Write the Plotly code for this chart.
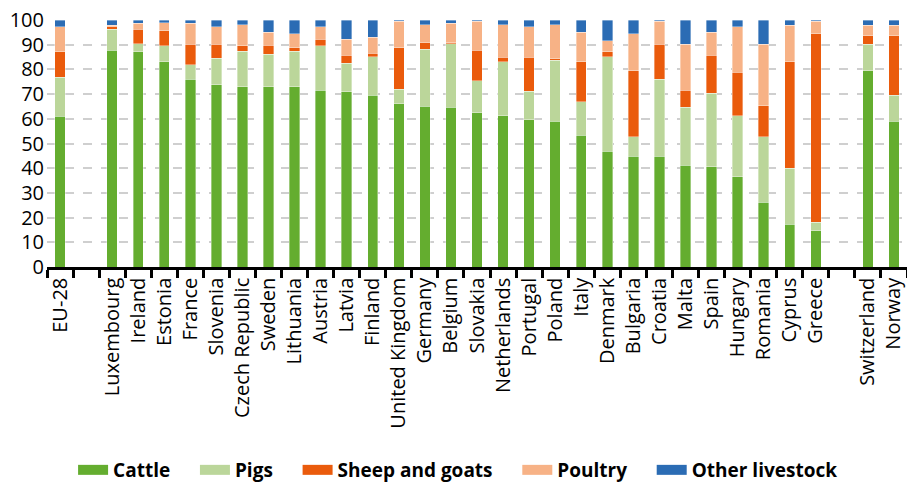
import plotly.graph_objects as go

countries = ["EU-28", " ", "Luxembourg", "Ireland", "Estonia", "France", "Slovenia",
             "Czech Republic", "Sweden", "Lithuania", "Austria", "Latvia", "Finland",
             "United Kingdom", "Germany", "Belgium", "Slovakia", "Netherlands", "Portugal",
             "Poland", "Italy", "Denmark", "Bulgaria", "Croatia", "Malta", "Spain",
             "Hungary", "Romania", "Cyprus", "Greece", "  ", "Switzerland", "Norway"]

# shares in % (None = spacer column)
cattle = [61.1, None, 87.8, 87.2, 83.0, 76.0, 73.7, 73.0, 73.0, 73.0, 71.6, 70.9, 69.6,
          66.0, 65.1, 64.6, 62.4, 61.2, 59.7, 59.1, 53.4, 46.9, 44.9, 44.9, 41.2, 40.5,
          36.5, 26.3, 17.3, 14.6, None, 79.4, 59.1]
pigs = [15.7, None, 8.5, 3.1, 6.5, 5.8, 10.8, 14.4, 13.1, 14.4, 17.9, 11.5, 15.5,
        5.9, 23.0, 25.7, 13.0, 21.9, 11.5, 24.7, 13.5, 38.2, 7.8, 31.2, 23.5, 29.8,
        24.7, 26.4, 22.7, 3.6, None, 10.7, 10.5]
sheep_goats = [10.4, None, 1.0, 6.0, 6.2, 8.3, 5.6, 2.1, 3.6, 1.4, 2.8, 3.4, 1.5,
               16.9, 2.7, 0.5, 12.4, 1.9, 13.8, 0.5, 16.2, 2.1, 26.7, 14.0, 6.9, 15.5,
               17.6, 12.6, 43.1, 76.2, None, 3.5, 24.0]
poultry = [10.1, None, 0.6, 2.3, 3.1, 8.5, 7.2, 8.5, 5.4, 5.6, 5.0, 6.5, 6.4,
           10.7, 7.3, 7.8, 11.7, 13.0, 12.3, 13.7, 12.0, 4.4, 15.0, 9.4, 18.5, 9.3,
           18.5, 24.8, 14.8, 5.1, None, 4.3, 4.3]
other = [2.7, None, 2.1, 1.4, 1.2, 1.4, 2.7, 2.0, 4.9, 5.6, 2.7, 7.7, 7.0,
         0.5, 1.9, 1.4, 0.5, 2.0, 2.7, 2.0, 4.9, 8.4, 5.6, 0.5, 9.9, 4.9,
         2.7, 9.9, 2.1, 0.5, None, 2.1, 2.1]

series = [
    ("Cattle", cattle, "#64ad2f"),
    ("Pigs", pigs, "#bbd69a"),
    ("Sheep and goats", sheep_goats, "#ea5b0c"),
    ("Poultry", poultry, "#f7b286"),
    ("Other livestock", other, "#2b6cb4"),
]

font_family = "Open Sans"

fig = go.Figure()
for name, vals, color in series:
    fig.add_trace(go.Bar(
        x=countries, y=vals, name=name, showlegend=False, legendgroup=name,
        marker=dict(color=color, line=dict(color="rgba(255,255,255,0.6)", width=0.6)),
    ))
# legend entries drawn as thick line keys (wide swatches like the original);
# a little padding after each label spreads the entries out
for i, (name, vals, color) in enumerate(series):
    pad = "" if i == len(series) - 1 else "\u00a0" * 4
    fig.add_trace(go.Scatter(
        x=[None], y=[None], mode="lines", name=name + pad, legendgroup=name,
        line=dict(color=color, width=17),
    ))

fig.update_layout(
    barmode="stack",
    bargap=0.6,
    width=907, height=489,
    margin=dict(l=47, r=0, t=20, b=222, autoexpand=False),
    plot_bgcolor="white",
    paper_bgcolor="white",
    font=dict(family=font_family, size=20, color="black"),
    legend=dict(
        orientation="h", x=0.478, xanchor="center",
        yref="container", y=0, yanchor="bottom",
        font=dict(size=19, weight="bold"),
        itemwidth=30, traceorder="normal",
    ),
    xaxis=dict(
        type="category",
        tickangle=-90,
        ticks="outside", tickson="boundaries", ticklen=8, tickwidth=2.5, tickcolor="black",
        showline=True, linecolor="black", linewidth=2.5,
        showgrid=False,
        tickfont=dict(size=20),
    ),
    yaxis=dict(
        range=[0, 100], dtick=10,
        showgrid=True, gridcolor="#cfcfcf", gridwidth=1.5, griddash="dash",
        zeroline=False, showline=False,
        ticks="", tickfont=dict(size=20),
        ticklabelstandoff=2,
    ),
)

# page has a default body margin; drop it so the figure sits at the window origin
fig.write_html(
    "out.html",
    config={"displayModeBar": False},
    post_script="document.body.style.margin='0';document.body.style.overflow='hidden';",
)
